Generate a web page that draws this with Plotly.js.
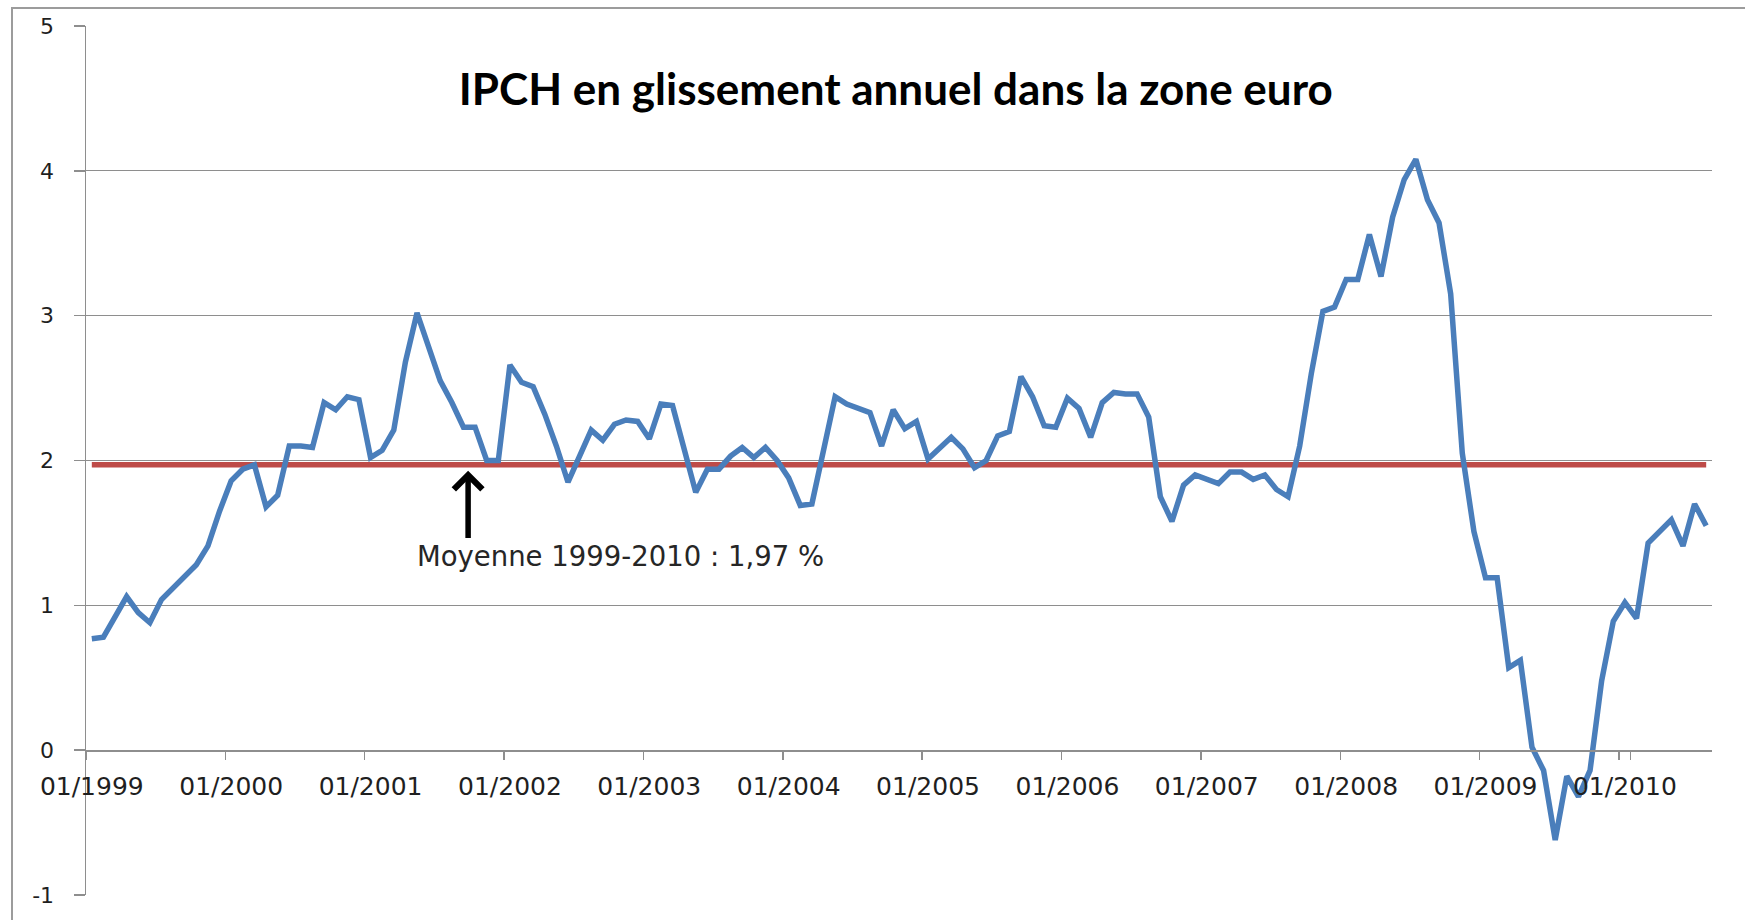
<!DOCTYPE html>
<html>
<head>
<meta charset="utf-8">
<script src="https://cdn.plot.ly/plotly-3.0.1.min.js"></script>
<style>
  html, body { margin: 0; padding: 0; background: #ffffff; overflow: hidden; }
  #wrap { position: relative; width: 1745px; height: 920px; }
  #chart { position: absolute; left: 0; top: 0; width: 1745px; height: 920px; }
  #frame { position: absolute; left: 11px; top: 7px; right: -4px; bottom: -4px;
           border-left: 2px solid #9c9c9c; border-top: 2px solid #9c9c9c; pointer-events: none; }
</style>
</head>
<body>
<div id="wrap">
  <div id="chart"></div>
  <div id="frame"></div>
</div>
<script>
// ---- Data (HICP year-on-year, euro area, monthly 01/1999 - 08/2010) ----
const startYear = 1999;
const nMonths = 140;

const ipch1999 = [0.77, 0.78, 0.92, 1.06, 0.95, 0.88, 1.04, 1.12, 1.20, 1.28, 1.41, 1.65];
const ipch2000 = [1.86, 1.94, 1.97, 1.68, 1.76, 2.10, 2.10, 2.09, 2.40, 2.35, 2.44, 2.42];
const ipch2001 = [2.02, 2.07, 2.21, 2.68, 3.02, 2.78, 2.55, 2.40, 2.23, 2.23, 2.00, 2.00];
const ipch2002 = [2.66, 2.54, 2.51, 2.32, 2.10, 1.85, 2.04, 2.21, 2.14, 2.25, 2.28, 2.27];
const ipch2003 = [2.15, 2.39, 2.38, 2.07, 1.78, 1.94, 1.94, 2.03, 2.09, 2.02, 2.09, 2.00];
const ipch2004 = [1.88, 1.69, 1.70, 2.07, 2.44, 2.39, 2.36, 2.33, 2.10, 2.35, 2.22, 2.27];
const ipch2005 = [2.01, 2.08, 2.16, 2.08, 1.95, 2.00, 2.17, 2.20, 2.58, 2.44, 2.24, 2.23];
const ipch2006 = [2.43, 2.36, 2.16, 2.40, 2.47, 2.46, 2.46, 2.30, 1.75, 1.58, 1.83, 1.90];
const ipch2007 = [1.87, 1.84, 1.92, 1.92, 1.87, 1.90, 1.80, 1.75, 2.10, 2.60, 3.03, 3.06];
const ipch2008 = [3.25, 3.25, 3.56, 3.27, 3.68, 3.94, 4.08, 3.80, 3.64, 3.15, 2.05, 1.51];
const ipch2009 = [1.19, 1.19, 0.57, 0.62, 0.02, -0.14, -0.62, -0.18, -0.32, -0.14, 0.48, 0.89];
const ipch2010 = [1.02, 0.91, 1.43, 1.51, 1.59, 1.41, 1.70, 1.55];

const moyenne = 1.97;

const xTickLabels = ["01/1999", "01/2000", "01/2001", "01/2002", "01/2003", "01/2004",
                     "01/2005", "01/2006", "01/2007", "01/2008", "01/2009", "01/2010"];
const yTickVals = [-1, 0, 1, 2, 3, 4, 5];
const yTickText = ["-1", "0", "1", "2", "3", "4", "5"];

const titre = "IPCH en glissement annuel dans la zone euro";
const texteMoyenne = "Moyenne 1999-2010 : 1,97 %";

// ---- Build series ----
const ipch = [].concat(ipch1999, ipch2000, ipch2001, ipch2002, ipch2003, ipch2004,
                       ipch2005, ipch2006, ipch2007, ipch2008, ipch2009, ipch2010);
const months = [];
for (let k = 0; k < nMonths; k++) {
  const y = startYear + Math.floor(k / 12);
  const m = (k % 12) + 1;
  months.push((m < 10 ? "0" + m : "" + m) + "/" + y);
}
const meanLine = months.map(() => moyenne);

const gridCol = "#8e8e8e";
const txtCol = "#1f1f1f";

const traces = [
  { type: "scatter", mode: "lines", x: months, y: meanLine,
    line: { color: "#BE4B48", width: 5.5 }, hoverinfo: "skip", name: "Moyenne" },
  { type: "scatter", mode: "lines", x: months, y: ipch,
    line: { color: "#4A7EBB", width: 5.5 }, name: "IPCH" }
];

const layout = {
  width: 1745, height: 920,
  margin: { l: 86, r: 33, t: 26, b: 25, pad: 0 },
  paper_bgcolor: "#ffffff", plot_bgcolor: "#ffffff",
  showlegend: false,
  title: { text: "<b>" + titre + "</b>", xref: "paper", x: 0.498, xanchor: "center",
           yref: "container", y: 0.903, yanchor: "middle",
           font: { family: "Lato, 'Open Sans', sans-serif", size: 44, color: "#000000" } },
  xaxis: {
    type: "category", range: [-0.5, nMonths - 0.5],
    anchor: "free", position: 1 / 6,
    tickmode: "array", tickvals: xTickLabels, ticktext: xTickLabels, tickangle: 0,
    tickson: "boundaries", ticks: "outside", ticklen: 8, tickwidth: 1.5, tickcolor: gridCol,
    ticklabelstandoff: 13,
    showline: true, linecolor: gridCol, linewidth: 1.5,
    showgrid: false, zeroline: false,
    tickfont: { family: "'DejaVu Sans', Verdana, sans-serif", size: 25, color: txtCol }
  },
  yaxis: {
    range: [-1, 5], tickmode: "array", tickvals: yTickVals, ticktext: yTickText,
    ticks: "outside", ticklen: 11, tickwidth: 1.5, tickcolor: gridCol,
    ticklabelstandoff: 15,
    showline: true, linecolor: gridCol, linewidth: 1.5,
    showgrid: true, gridcolor: gridCol, gridwidth: 1.3,
    zeroline: false,
    tickfont: { family: "'DejaVu Sans', Verdana, sans-serif", size: 22, color: txtCol }
  },
  annotations: [
    { xref: "x", yref: "y", axref: "x", ayref: "y",
      x: 32.4, y: 1.93, ax: 32.4, ay: 1.455,
      text: "", showarrow: true, arrowhead: 4, arrowsize: 1, arrowwidth: 5.5,
      arrowcolor: "#000000", standoff: 0, startstandoff: 0 },
    { xref: "x", yref: "y", x: 45.5, y: 1.34, xanchor: "center", yanchor: "middle",
      text: texteMoyenne, showarrow: false,
      font: { family: "'DejaVu Sans', Verdana, sans-serif", size: 27.5, color: "#262626" } }
  ]
};

Plotly.newPlot("chart", traces, layout, { staticPlot: true, displayModeBar: false });
</script>
</body>
</html>
